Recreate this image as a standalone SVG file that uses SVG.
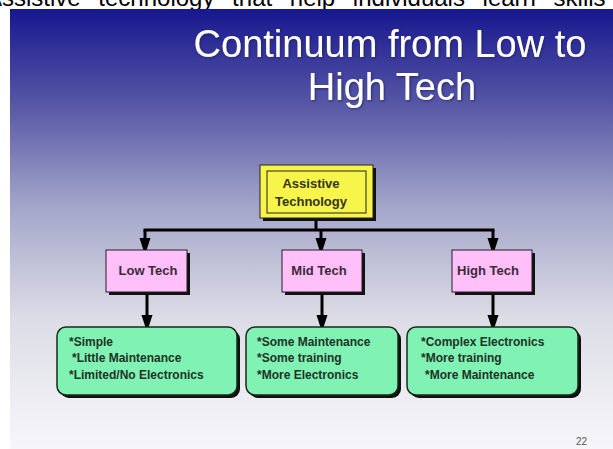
<svg xmlns="http://www.w3.org/2000/svg" width="613" height="449" viewBox="0 0 613 449">
  <defs>
    <linearGradient id="bg" x1="0" y1="0" x2="0" y2="1">
      <stop offset="0" stop-color="#17178f"/>
      <stop offset="0.22" stop-color="#5858a6"/>
      <stop offset="0.45" stop-color="#a3a6c9"/>
      <stop offset="0.7" stop-color="#dcdce6"/>
      <stop offset="1" stop-color="#f7f7fa"/>
    </linearGradient>
    <filter id="glow" x="-10%" y="-30%" width="120%" height="160%">
      <feGaussianBlur in="SourceAlpha" stdDeviation="1.2" result="b"/>
      <feOffset in="b" dx="1" dy="1" result="o"/>
      <feFlood flood-color="#202060" flood-opacity="0.8"/>
      <feComposite in2="o" operator="in" result="s"/>
      <feMerge><feMergeNode in="s"/><feMergeNode in="SourceGraphic"/></feMerge>
    </filter>
    <marker id="arr" markerUnits="userSpaceOnUse" markerWidth="12" markerHeight="18" refX="11" refY="5.5" orient="auto">
      <path d="M0,0 L17,5.5 L0,11 Z" fill="#000"/>
    </marker>
  </defs>
  <style>
    .top { font-family: "Liberation Sans", Arial, sans-serif; font-size: 24px; fill: #000; }
    .title { font-family: "Liberation Sans", Arial, sans-serif; font-size: 38px; fill: #fff; text-anchor: middle; }
    .shadow { fill: #111; }
    .yellow { fill: #f7f54a; stroke: #222; stroke-width: 1; }
    .yinner { fill: none; stroke: #222; stroke-width: 1; }
    .pink { fill: #ffbff8; stroke: #2a1a2a; stroke-width: 1; }
    .green { fill: #80f2b4; stroke: #1a2a1a; stroke-width: 1.5; }
    .lbl { font-family: "Liberation Sans", Arial, sans-serif; font-weight: bold; font-size: 13px; fill: #3a2a3a; text-anchor: middle; }
    .ylbl { font-family: "Liberation Sans", Arial, sans-serif; font-weight: bold; font-size: 13px; fill: #333322; text-anchor: middle; }
    .item { font-family: "Liberation Sans", Arial, sans-serif; font-weight: bold; font-size: 12px; fill: #1e3326; }
    .conn { stroke: #000; stroke-width: 3; fill: none; }
    .pg { font-family: "Liberation Sans", Arial, sans-serif; font-size: 10px; fill: #555; }
  </style>

  <rect x="0" y="0" width="613" height="449" fill="#fff"/>
  <text class="top" x="-14" y="6" word-spacing="11">Assistive technology that help individuals learn skills</text>
  <rect x="10" y="9" width="603" height="440" fill="url(#bg)"/>

  <g id="title" filter="url(#glow)">
    <text class="title" x="390" y="57">Continuum from Low to</text>
    <text class="title" x="392" y="100">High Tech</text>
  </g>

  <g id="connectors">
    <line class="conn" x1="316" y1="218" x2="316" y2="230"/>
    <line class="conn" x1="143.5" y1="230" x2="494.5" y2="230"/>
    <line class="conn" x1="145" y1="230" x2="145" y2="249" marker-end="url(#arr)"/>
    <line class="conn" x1="321" y1="230" x2="321" y2="249" marker-end="url(#arr)"/>
    <line class="conn" x1="493" y1="230" x2="493" y2="249" marker-end="url(#arr)"/>
    <line class="conn" x1="147" y1="293" x2="147" y2="326" marker-end="url(#arr)"/>
    <line class="conn" x1="322" y1="293" x2="322" y2="326" marker-end="url(#arr)"/>
    <line class="conn" x1="493" y1="293" x2="493" y2="326" marker-end="url(#arr)"/>
  </g>

  <g id="assistive-technology">
    <rect class="shadow" x="263" y="168" width="113" height="53"/>
    <rect class="yellow" x="260" y="165" width="113" height="53"/>
    <rect class="yinner" x="267" y="171" width="99" height="42"/>
    <text class="ylbl" x="311" y="188">Assistive</text>
    <text class="ylbl" x="311" y="206">Technology</text>
  </g>

  <g id="low-tech">
    <rect class="shadow" x="109" y="253" width="81" height="42"/>
    <rect class="pink" x="106" y="250" width="81" height="42"/>
    <text class="lbl" x="148" y="275">Low Tech</text>
  </g>
  <g id="mid-tech">
    <rect class="shadow" x="285" y="253" width="80" height="42"/>
    <rect class="pink" x="282" y="250" width="80" height="42"/>
    <text class="lbl" x="319" y="275">Mid Tech</text>
  </g>
  <g id="high-tech">
    <rect class="shadow" x="455" y="253" width="80" height="42"/>
    <rect class="pink" x="452" y="250" width="80" height="42"/>
    <text class="lbl" x="488" y="275">High Tech</text>
  </g>

  <g id="low-tech-details">
    <rect class="shadow" x="60" y="330" width="180" height="68" rx="9"/>
    <rect class="green" x="57" y="327" width="180" height="68" rx="9"/>
    <text class="item" x="69" y="346">*Simple</text>
    <text class="item" x="72" y="362"> *Little Maintenance</text>
    <text class="item" x="69" y="379">*Limited/No Electronics</text>
  </g>
  <g id="mid-tech-details">
    <rect class="shadow" x="249" y="330" width="152" height="68" rx="9"/>
    <rect class="green" x="246" y="327" width="152" height="68" rx="9"/>
    <text class="item" x="257" y="346">*Some Maintenance</text>
    <text class="item" x="257" y="362">*Some training</text>
    <text class="item" x="257" y="379">*More Electronics</text>
  </g>
  <g id="high-tech-details">
    <rect class="shadow" x="410" y="330" width="171" height="68" rx="9"/>
    <rect class="green" x="407" y="327" width="171" height="68" rx="9"/>
    <text class="item" x="421" y="346">*Complex Electronics</text>
    <text class="item" x="421" y="362">*More training</text>
    <text class="item" x="425" y="379">*More Maintenance</text>
  </g>

  <text class="pg" x="576" y="445">22</text>
</svg>
